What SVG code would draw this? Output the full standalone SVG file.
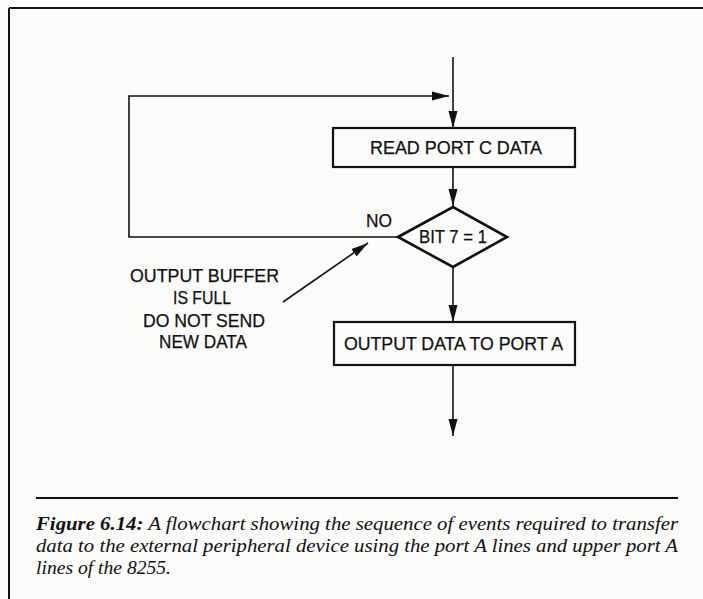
<svg xmlns="http://www.w3.org/2000/svg" width="703" height="599" viewBox="0 0 703 599">
<defs>
<marker id="ah" markerUnits="userSpaceOnUse" markerWidth="18" markerHeight="10" refX="17" refY="5" orient="auto">
<path d="M0,0.5 L17,5 L0,9.5 Z" fill="#111"/>
</marker>
<style>
.ln{stroke:#111;stroke-width:1.6;fill:none}
.bx{stroke:#111;stroke-width:2.2;fill:none}
.lb{font-family:"Liberation Sans",Arial,sans-serif;fill:#111;text-anchor:start;stroke:#111;stroke-width:0.25}
.cap{font-family:"Liberation Serif","Times New Roman",serif;font-style:italic;font-size:19.5px;fill:#111}
</style>
</defs>
<rect width="703" height="599" fill="#fbfbf9"/>
<g id="frame">
<path d="M9,8 H703 M9,8 V599" stroke="#111" stroke-width="2" fill="none"/>
</g>
<g id="connectors">
<path class="ln" d="M453,57 V128" marker-end="url(#ah)"/>
<path class="ln" d="M398,237 H129 V96 H449" marker-end="url(#ah)"/>
<path class="ln" d="M453,167 V206" marker-end="url(#ah)"/>
<path class="ln" d="M453,267 V322" marker-end="url(#ah)"/>
<path class="ln" d="M453,365 V436" marker-end="url(#ah)"/>
<path class="ln" d="M283,302 L368,243" marker-end="url(#ah)"/>
</g>
<g id="read-port-c">
<rect class="bx" x="333" y="128" width="242" height="39"/>
<text class="lb" x="370" y="154" font-size="18.5" textLength="172" lengthAdjust="spacingAndGlyphs">READ PORT  C DATA</text>
</g>
<g id="bit7-decision">
<path d="M398,237 L453,207 L507,237 L453,267 Z" stroke="#111" stroke-width="2.6" fill="none" stroke-linejoin="miter"/>
<text class="lb" x="419" y="243" font-size="18.5" textLength="68" lengthAdjust="spacingAndGlyphs">BIT 7 = 1</text>
</g>
<g id="no-label">
<text class="lb" x="366" y="227" font-size="18" textLength="26" lengthAdjust="spacingAndGlyphs">NO</text>
</g>
<g id="output-port-a">
<rect class="bx" x="334" y="322" width="241" height="43"/>
<text class="lb" x="344" y="350" font-size="19" textLength="219" lengthAdjust="spacingAndGlyphs">OUTPUT DATA TO PORT A</text>
</g>
<g id="annotation">
<text class="lb" x="130" y="282" font-size="18" textLength="149" lengthAdjust="spacingAndGlyphs">OUTPUT BUFFER</text>
<text class="lb" x="173" y="304" font-size="18" textLength="58" lengthAdjust="spacingAndGlyphs">IS FULL</text>
<text class="lb" x="143" y="327" font-size="18" textLength="122" lengthAdjust="spacingAndGlyphs">DO NOT SEND</text>
<text class="lb" x="159" y="348" font-size="18" textLength="88" lengthAdjust="spacingAndGlyphs">NEW DATA</text>
</g>
<g id="caption">
<path d="M36,498 H678" stroke="#111" stroke-width="1.8"/>
<text class="cap" x="36" y="530" textLength="642" lengthAdjust="spacingAndGlyphs"><tspan font-weight="bold">Figure 6.14:</tspan> A flowchart showing the sequence of events required to transfer</text>
<text class="cap" x="36" y="552" textLength="642" lengthAdjust="spacingAndGlyphs">data to the external peripheral device using the port A lines and upper port A</text>
<text class="cap" x="36" y="574" textLength="135" lengthAdjust="spacingAndGlyphs">lines of the 8255.</text>
</g>
</svg>
